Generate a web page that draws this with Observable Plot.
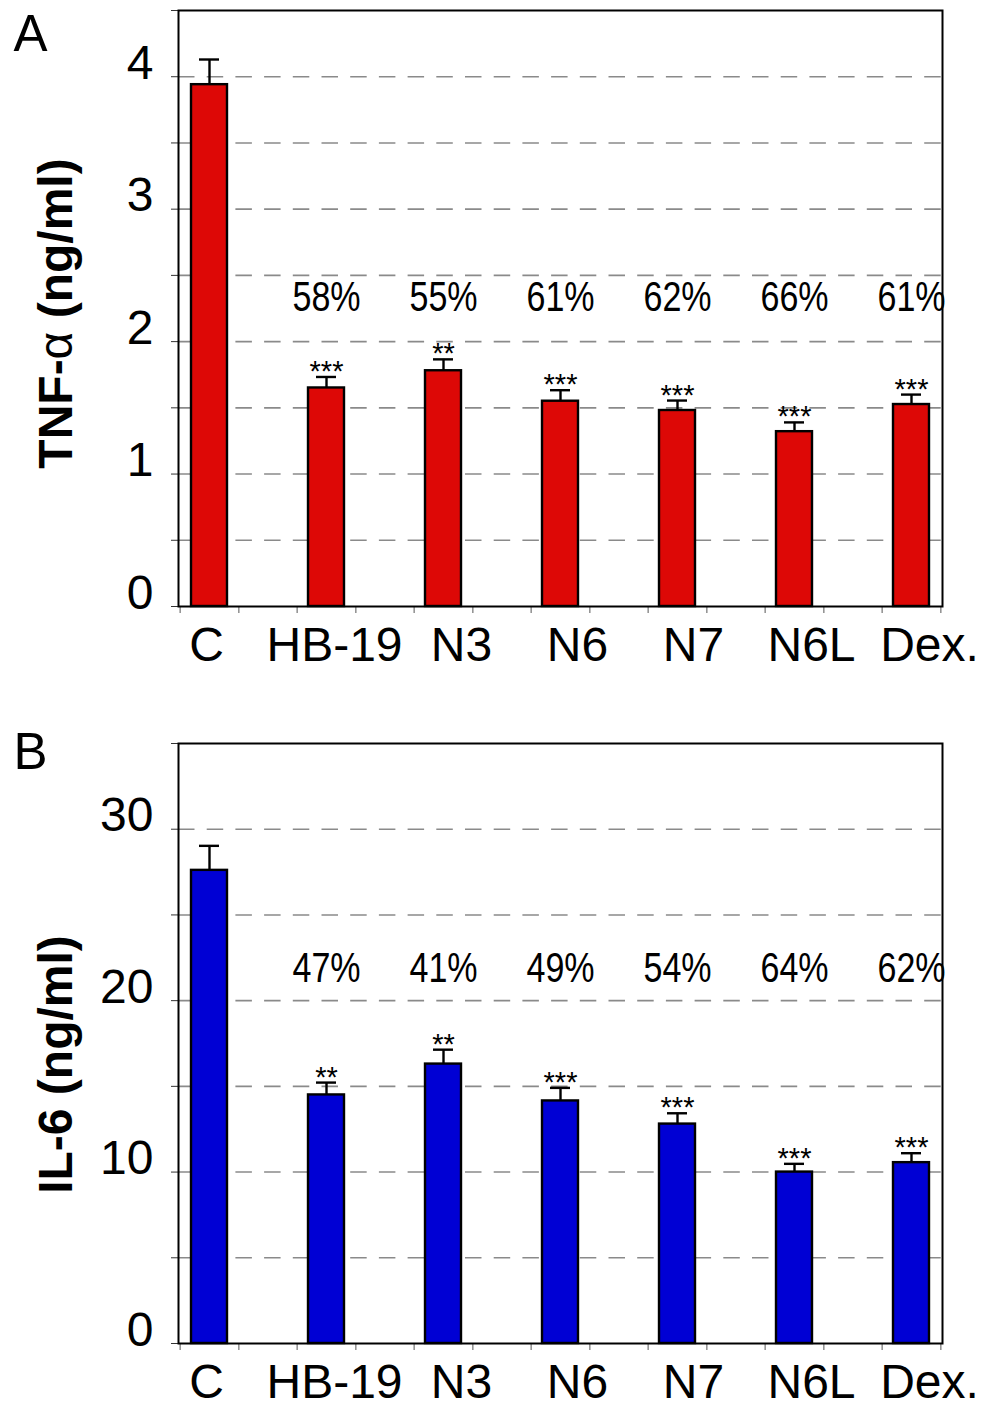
<!DOCTYPE html>
<html><head><meta charset="utf-8">
<script src="https://cdn.jsdelivr.net/npm/d3@7"></script>
<script src="https://cdn.jsdelivr.net/npm/@observablehq/plot@0.6"></script>
<style>
body{margin:0;background:#fff;}
#root{width:989px;}
#root svg{display:block;}
</style></head><body><div id="root"></div>
<script>
// ---- data ----
const categories = ["C", "HB-19", "N3", "N6", "N7", "N6L", "Dex."];

const tnfValues = [3.94, 1.65, 1.78, 1.55, 1.48, 1.32, 1.525];
const tnfErrors = [0.19, 0.083, 0.086, 0.083, 0.075, 0.07, 0.075];
const tnfStars = ["", "***", "**", "***", "***", "***", "***"];
const tnfInhibition = ["", "58%", "55%", "61%", "62%", "66%", "61%"];
const tnfTicks = [0, 1, 2, 3, 4];

const il6Values = [27.6, 14.5, 16.3, 14.15, 12.8, 10.0, 10.55];
const il6Errors = [1.43, 0.72, 0.84, 0.76, 0.63, 0.48, 0.55];
const il6Stars = ["", "**", "**", "***", "***", "***", "***"];
const il6Inhibition = ["", "47%", "41%", "49%", "54%", "64%", "62%"];
const il6Ticks = [0, 10, 20, 30];

// ---- drawing ----
const FONT = "'Liberation Sans', Arial, Helvetica, sans-serif";

function panel(cfg) {
  const rows = categories.map((c, i) => ({
    cat: c, value: cfg.values[i], top: cfg.values[i] + cfg.errors[i],
    star: cfg.stars[i], pct: cfg.pct[i]
  }));
  const W = 989, ML = 178, MR = 47;
  const step = (W - ML - MR) / 6.5;
  const minor = d3.range(0, cfg.yMax + 1e-9, cfg.minorStep);
  const labelNudge = [-3, 8, 18, 17, 16, 17, 18];
  return Plot.plot({
    width: W, height: cfg.height,
    marginLeft: ML, marginRight: MR, marginTop: cfg.marginTop, marginBottom: cfg.marginBottom,
    style: {fontFamily: FONT, background: "white", color: "black", overflow: "visible"},
    x: {type: "band", domain: categories, paddingInner: 0.693, paddingOuter: 0.103, axis: null},
    y: {domain: [0, cfg.yMax], axis: null},
    marks: [
      Plot.ruleY(minor.filter(v => v > 0 && v < cfg.yMax - 1e-9), {
        stroke: "#8a8a8a", strokeWidth: 1.6, strokeDasharray: "16.5,12.2"
      }),
      Plot.axisY({ticks: minor, tickSize: 7, tickFormat: () => "", label: null, stroke: "#333"}),
      Plot.axisX({ticks: categories, tickSize: 7, tickFormat: () => "", label: null, stroke: "#555", dx: -step / 4}),
      Plot.axisX({ticks: categories, tickSize: 7, tickFormat: () => "", label: null, stroke: "#555", dx: step / 4}),
      Plot.barY(rows, {x: "cat", y: "value", fill: cfg.fill, stroke: "black", strokeWidth: 2.4}),
      Plot.ruleX(rows, {x: "cat", y1: "value", y2: "top", stroke: "black", strokeWidth: 2.4}),
      Plot.tickY(rows, {x: "cat", y: "top", stroke: "black", strokeWidth: 2.4, insetLeft: 8, insetRight: 8}),
      Plot.text(rows, {x: "cat", y: "top", text: "star", lineAnchor: "bottom", dy: 4, fontSize: 29}),
      Plot.text(rows, {x: "cat", y: () => cfg.pctY, text: "pct", lineAnchor: "bottom", fontSize: 42,
        stroke: "none", fill: "black", title: () => "pct"}),
      Plot.frame({stroke: "black", strokeWidth: 2}),
      Plot.text(cfg.ticks, {y: d => d, text: d => String(d), frameAnchor: "left", textAnchor: "end",
        dx: -25, lineAnchor: "bottom", dy: 2, fontSize: 48}),
      ...categories.map((c, i) => Plot.text([c], {x: d => d, text: d => d, frameAnchor: "bottom",
        lineAnchor: "bottom", dy: 54, dx: labelNudge[i], fontSize: 48})),
      Plot.text([cfg.letter], {text: d => d, frameAnchor: "top-left", textAnchor: "start", lineAnchor: "bottom",
        dx: -165, dy: cfg.letterDy, fontSize: 51}),
      Plot.text([cfg.title], {text: d => d, frameAnchor: "left", textAnchor: "middle", lineAnchor: "middle",
        rotate: -90, dx: -122, dy: cfg.titleDy, fontSize: 48, fontWeight: "bold"})
    ]
  });
}

const root = document.getElementById("root");
const a = panel({
  letter: "A", title: "TNF-α (ng/ml)", values: tnfValues, errors: tnfErrors, stars: tnfStars,
  pct: tnfInhibition, ticks: tnfTicks, minorStep: 0.5, yMax: 4.5, pctY: 2.23, fill: "#DD0806",
  height: 708, marginTop: 10, marginBottom: 102, letterDy: 40, titleDy: 5
});
const b = panel({
  letter: "B", title: "IL-6 (ng/ml)", values: il6Values, errors: il6Errors, stars: il6Stars,
  pct: il6Inhibition, ticks: il6Ticks, minorStep: 5, yMax: 35, pctY: 21.07, fill: "#0000D4",
  height: 709, marginTop: 35, marginBottom: 74, letterDy: 25, titleDy: 21
});
root.appendChild(a);
root.appendChild(b);

// Greek alpha in the symbol (non-bold) weight, as in the original
a.querySelectorAll("text").forEach(t => {
  if (t.textContent === "TNF-α (ng/ml)") {
    t.innerHTML = 'TNF-<tspan font-weight="normal">α</tspan> (ng/ml)';
  }
});
// percentage labels are set in a narrow face in the original: condense them
[a, b].forEach(svg => {
  svg.querySelectorAll("text").forEach(t => {
    const ttl = t.querySelector("title");
    if (ttl && ttl.textContent === "pct") {
      ttl.remove();
      if (!t.textContent) return;
      const w = t.getComputedTextLength();
      t.setAttribute("textLength", (w * 0.81).toFixed(1));
      t.setAttribute("lengthAdjust", "spacingAndGlyphs");
    }
  });
});
</script>
</body></html>
